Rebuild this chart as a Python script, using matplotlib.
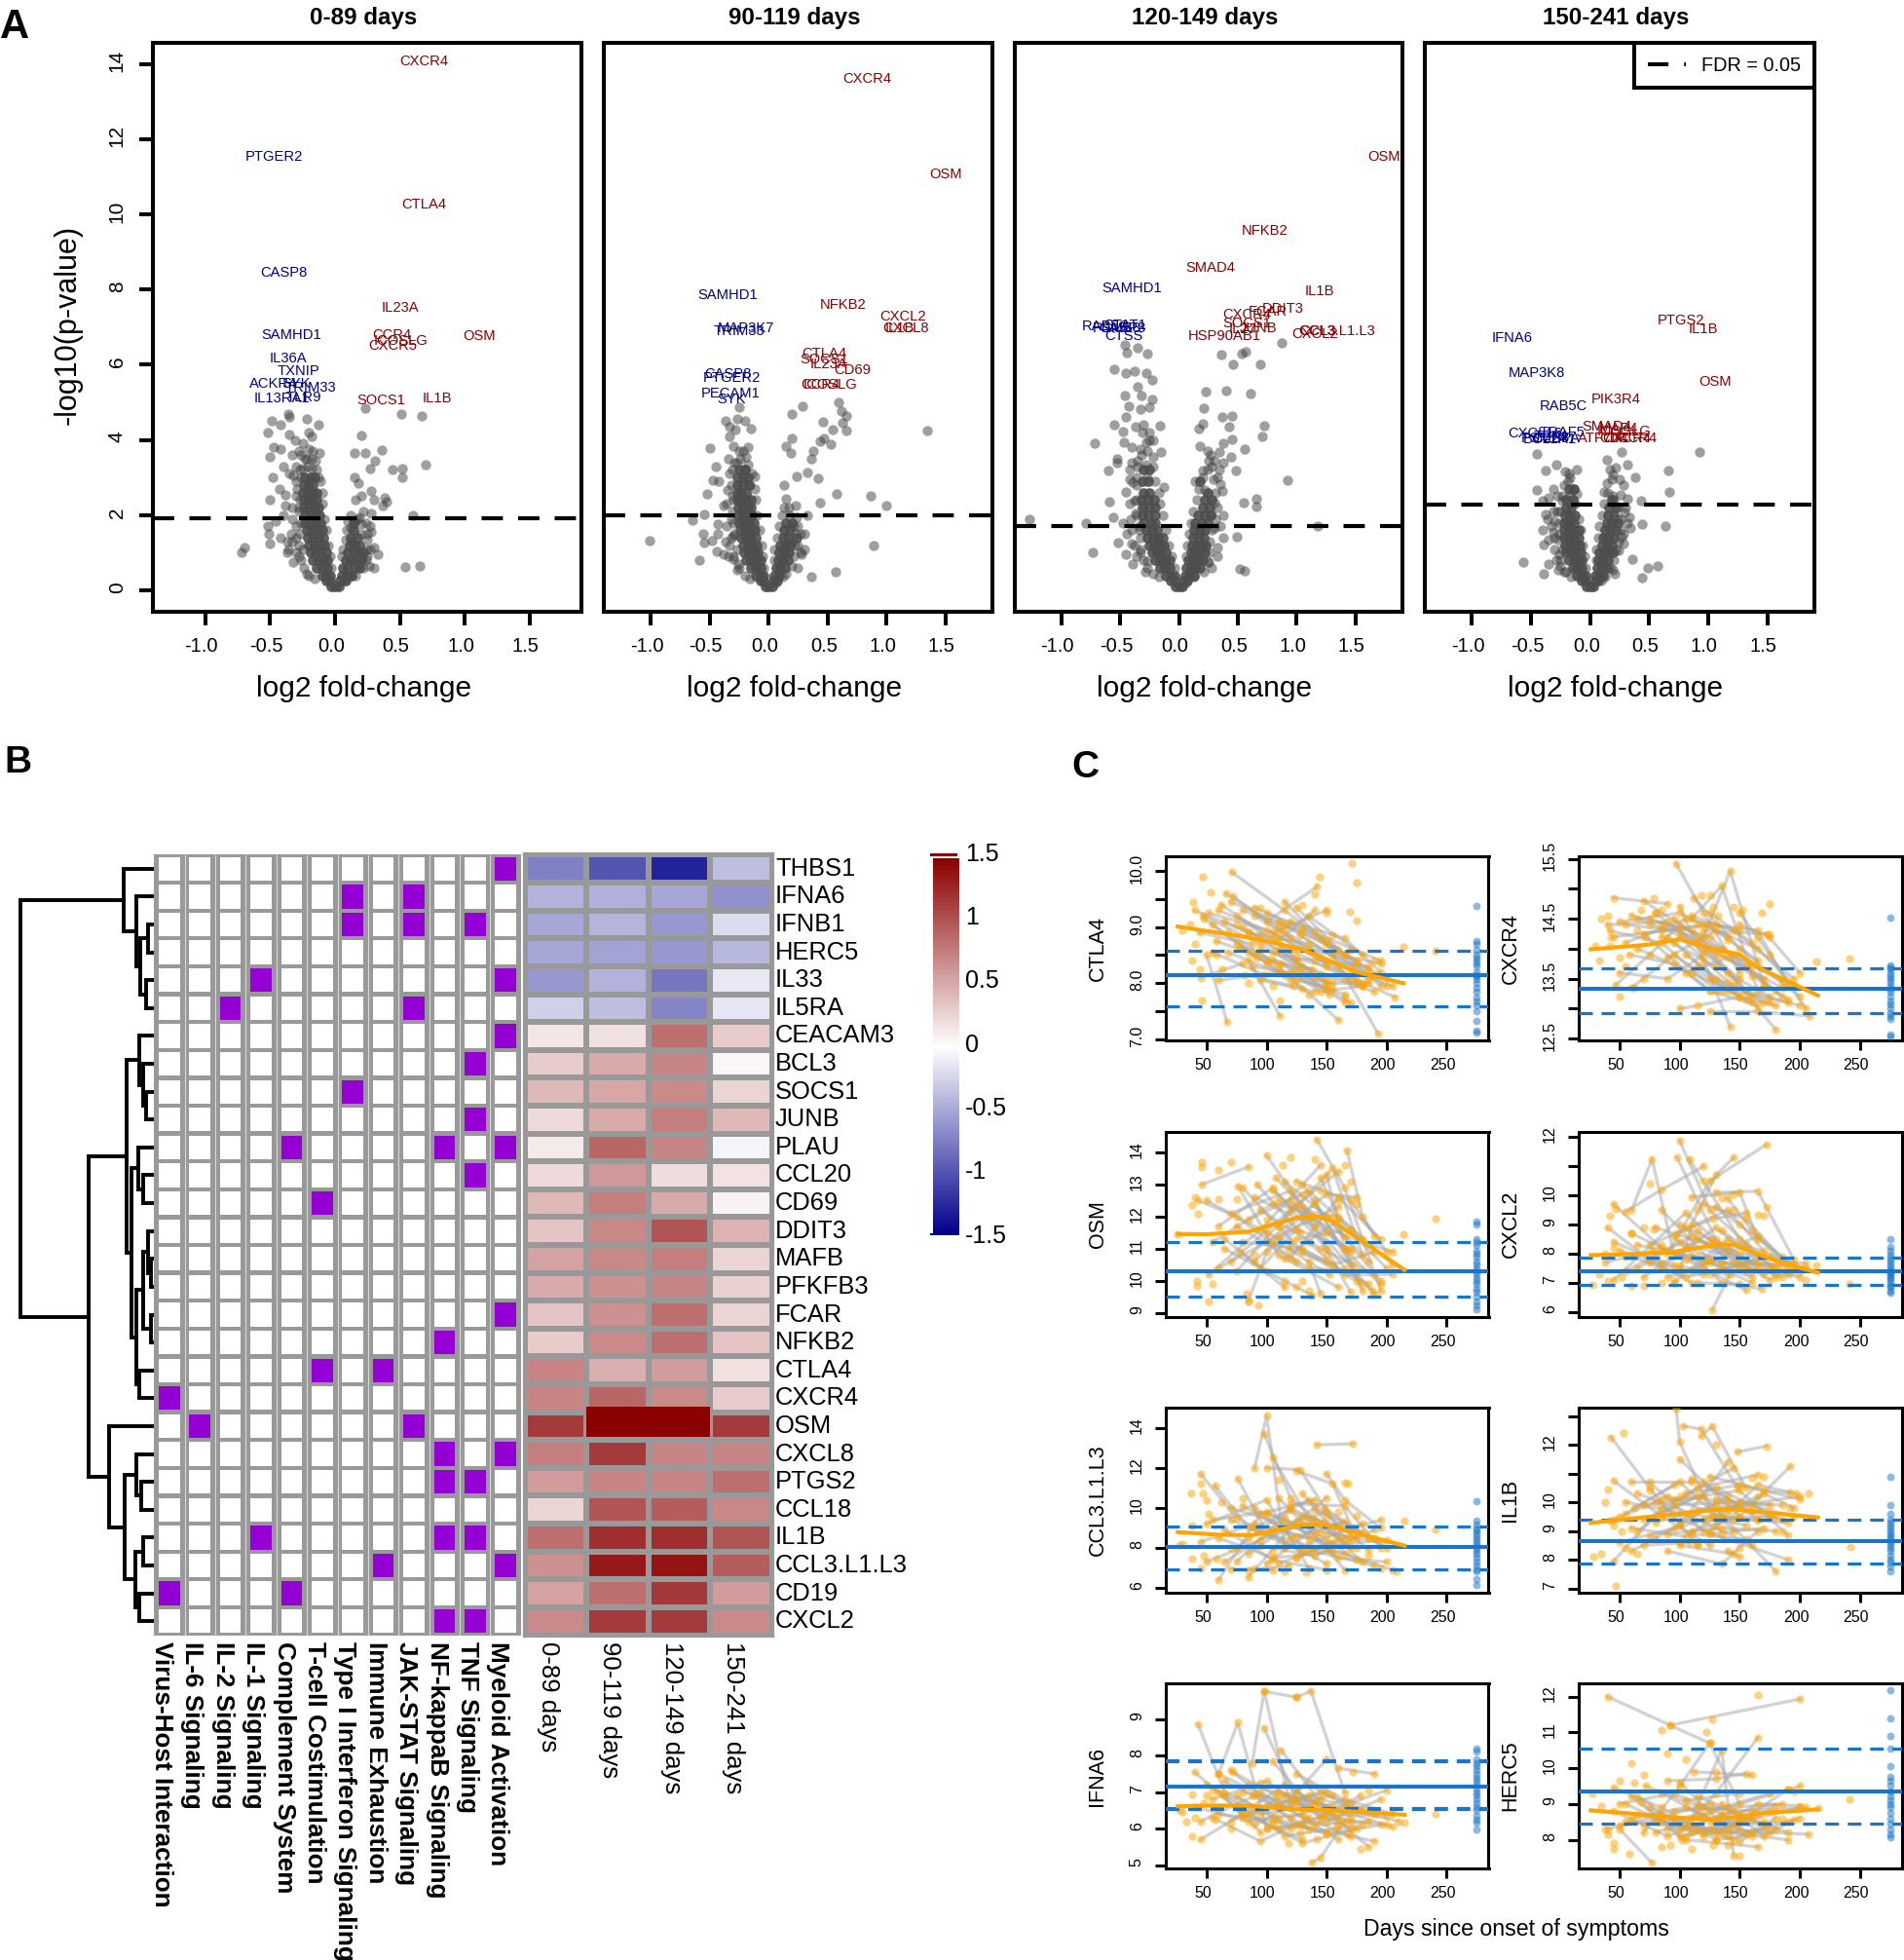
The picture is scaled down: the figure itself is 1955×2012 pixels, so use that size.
import numpy as np
import matplotlib
matplotlib.use('Agg')
import matplotlib.pyplot as plt
from matplotlib.colors import LinearSegmentedColormap
from matplotlib.lines import Line2D
from matplotlib.patches import Rectangle
from matplotlib.transforms import ScaledTranslation

plt.rcParams['font.family'] = ['Liberation Sans', 'DejaVu Sans']

W, H = 1956, 2012
fig = plt.figure(figsize=(W/100, H/100), dpi=100)

def px_ax(l, r, t, b):
    return fig.add_axes([l/W, 1-b/H, (r-l)/W, (b-t)/H])

def px_text(x, y, s, **kw):
    fig.text(x/W, 1-y/H, s, **kw)

def nudge(labels, dx, dy):
    # R draws its tick labels a little off the tick, px here
    off = ScaledTranslation(dx/100, dy/100, fig.dpi_scale_trans)
    for t in labels:
        t.set_transform(t.get_transform() + off)

#PANEL A DATA
periods = ['0-89 days', '90-119 days', '120-149 days', '150-241 days']
fdr_lines = [1.915, 1.986, 1.70, 2.28]

# core rows: y, then the x values at that height
v1_core = [(.1,-.03,0,.03),(.25,-.07,-.04,.04,.08),(.4,-.1,-.07,-.04,.05,.09,.13),
 (.6,-.14,-.1,-.06,.06,.1,.15,.19),(.8,-.17,-.13,-.09,-.06,.08,.12,.16,.2),
 (1.0,-.19,-.15,-.11,-.07,.1,.14,.18,.22),(1.2,-.2,-.16,-.12,-.08,.11,.15,.19),
 (1.4,-.21,-.17,-.13,-.09,.12,.17),(1.6,-.22,-.18,-.14,-.1,.14),(1.8,-.23,-.19,-.15,-.11,.14),
 (2.0,-.23,-.19,-.15,-.12),(2.2,-.24,-.2,-.16,-.13),(2.4,-.24,-.2,-.17,-.14),
 (2.6,-.25,-.21,-.17,-.14),(2.8,-.24,-.2,-.17),(3.0,-.23,-.19,-.16)]
v2_core = [(.1,-.03,0,.03),(.25,-.07,-.04,.04,.07),(.4,-.11,-.07,-.04,.05,.09),
 (.6,-.15,-.11,-.07,.06,.1,.14),(.8,-.19,-.15,-.11,-.07,.08,.12,.16),
 (1.0,-.21,-.17,-.13,-.09,.09,.13,.17),(1.2,-.22,-.18,-.14,-.1,.1,.14,.18),
 (1.4,-.23,-.19,-.15,-.11,.12,.16,.24),(1.6,-.24,-.2,-.16,-.12,.13,.18),
 (1.8,-.25,-.21,-.17,-.13,.15,.2),(2.0,-.26,-.22,-.18,-.14),(2.2,-.26,-.22,-.18,-.15),
 (2.4,-.27,-.23,-.19,-.15),(2.6,-.27,-.23,-.19),(2.8,-.27,-.22,-.17),(3.0,-.27,-.22,-.18),(3.2,-.25,-.2)]
v3_core = [(.1,-.03,0,.03),(.25,-.07,-.04,.04,.07),(.4,-.11,-.07,-.04,.05,.09,.13),
 (.6,-.16,-.12,-.08,.06,.1,.14,.18),(.8,-.2,-.16,-.12,-.08,.08,.12,.16,.2),
 (1.0,-.23,-.19,-.15,-.11,.1,.14,.18,.22),(1.2,-.25,-.21,-.17,-.13,.11,.15,.19,.23),
 (1.4,-.27,-.22,-.18,-.14,.12,.17,.21),(1.6,-.28,-.23,-.19,.13,.18,.22),(1.8,-.3,-.24,-.2,.14,.19,.24),
 (2.0,-.31,-.26,-.2,.16,.22,.27),(2.2,-.31,-.25,-.2,.2,.26),(2.4,-.32,-.26,-.21,.22,.28),
 (2.6,-.3,-.25,.24),(2.9,-.31,-.26,.18),(3.2,-.3,-.25)]
v4_core = [(.1,-.03,0,.03),(.25,-.07,-.04,.04,.07),(.4,-.11,-.07,-.04,.04,.08,.11),
 (.6,-.15,-.11,-.07,.06,.1,.14),(.8,-.18,-.14,-.1,-.07,.07,.11,.15),
 (1.0,-.2,-.16,-.12,-.08,.08,.12,.16,.19),(1.2,-.21,-.17,-.13,-.09,.1,.14,.18),
 (1.4,-.22,-.18,-.14,-.1,.11,.15,.2),(1.6,-.22,-.18,-.14,-.1,.13,.17,.22),
 (1.8,-.22,-.18,-.14,.14,.18,.23),(2.0,-.21,-.17,-.13,.15,.2),(2.2,-.2,-.16,.16,.22),
 (2.4,-.2,-.15,.18),(2.7,-.18,-.14)]

# scattered points: x, y pairs
v1_pts = [.23,4.85,.51,4.69,.67,4.63,.2,4.13,.15,3.65,.23,3.65,.36,3.73,.31,3.45,.7,3.35,.44,3.2,.52,3.25,.52,3.0,
 .27,3.25,.15,3.0,.18,2.85,.28,2.65,.2,2.5,.3,2.4,.16,2.4,.38,2.45,.37,2.25,.4,2.35,.22,2.1,.28,2.05,.6,2.0,
 .15,1.85,.12,1.65,.27,1.7,.28,1.55,.2,1.5,.13,1.3,.27,1.1,.25,.9,.3,.6,.54,.62,.65,.65,.2,.85,.18,.7,
 -.36,4.7,-.35,4.6,-.49,4.5,-.42,4.4,-.52,4.2,-.35,4.15,-.22,4.55,-.13,4.4,-.2,4.2,-.31,4.0,-.47,3.8,-.42,3.75,
 -.18,4.1,-.25,3.9,-.12,3.65,-.5,3.55,-.33,3.6,-.28,3.7,-.22,3.5,-.17,3.7,-.4,3.3,-.35,3.1,-.32,3.05,-.48,3.0,
 -.72,1.0,-.7,1.15,-.5,1.25,-.51,1.5,-.52,1.7,-.46,1.85,-.5,2.4,-.43,2.7,-.38,2.55,-.38,2.25,-.4,2.0,-.37,1.0,
 -.37,1.3,-.33,1.3,-.42,1.4,-.3,3.3,-.3,2.9,-.3,2.5,-.28,2.2,-.3,1.7,-.28,1.2,-.26,.8,-.22,.45,-.27,3.2]
v2_pts = [.59,5.0,.29,4.9,.2,4.7,.62,4.76,.66,4.64,.46,4.48,.63,4.46,.54,4.28,.66,4.26,1.35,4.26,.2,4.04,.47,4.04,
 .44,3.96,.15,3.84,.53,3.89,.19,3.66,.38,3.71,.36,3.51,.33,3.13,.24,3.03,.42,2.99,.13,2.8,.58,2.56,.87,2.52,
 .44,2.34,1.0,2.26,.23,2.26,.15,2.44,.33,2.0,.25,1.72,.3,1.49,.89,1.19,.57,.48,.36,.36,.28,.95,.25,.6,.2,1.3,
 -.25,4.86,-.37,4.5,-.27,4.57,-.2,4.52,-.33,4.34,-.15,4.31,-.28,4.28,-.33,4.1,-.5,3.77,-.3,3.84,-.18,3.8,
 -.34,3.5,-.19,3.55,-.45,3.3,-.27,3.39,-.47,2.94,-.42,2.89,-.12,3.03,-.52,2.56,-.35,2.68,-.38,2.26,-.55,2.02,
 -.65,1.87,-.43,1.76,-.56,1.49,-1.01,1.31,-.55,1.26,-.48,1.31,-.43,1.49,-.59,.8,-.44,1.03,-.38,.95,-.3,.83,
 -.27,.54,-.33,1.19,-.33,3.1,-.3,2.4,-.32,1.9,-.3,1.45,-.26,.7,-.22,3.7]
v3_pts = [.87,6.58,.36,6.28,.53,6.3,.57,6.34,.46,6.0,.69,6.0,.23,5.29,.4,5.32,.61,5.23,.21,4.85,.37,4.62,.45,4.64,
 .72,4.37,.2,4.42,.43,4.34,.17,4.3,.71,4.1,.45,4.02,.38,3.9,.56,3.75,.18,3.83,.34,3.69,.25,3.45,.44,3.55,.48,3.19,
 .2,3.19,.14,2.91,.92,2.93,.35,2.82,.37,2.63,.22,2.67,.55,2.32,.66,2.44,.66,2.24,.3,2.32,1.18,1.72,.49,1.43,.33,1.13,
 .25,.75,.52,.57,.56,.51,.3,1.67,.28,2.02,.28,3.3,.33,3.0,.24,3.7,.3,3.45,
 -.46,6.54,-.35,6.45,-.44,6.33,-.27,6.3,-.55,5.89,-.45,5.77,-.38,5.83,-.23,5.6,-.28,5.77,-.35,5.41,-.46,5.17,-.32,5.17,
 -.23,5.09,-.43,4.9,-.25,4.88,-.33,4.82,-.45,4.6,-.55,4.4,-.16,4.37,-.48,4.22,-.37,4.34,-.72,3.9,-.47,3.93,-.4,3.81,
 -.25,3.99,-.53,3.51,-.15,3.69,-.35,3.45,-.6,3.19,-.42,3.21,-.53,3.39,-.28,3.33,-.39,2.88,-.45,2.62,-.59,2.36,-.38,2.38,
 -.13,2.74,-.56,1.93,-1.27,1.88,-.79,1.78,-.48,1.78,-.44,1.49,-.52,1.27,-.73,1.0,-.45,.95,-.39,.69,-.27,.77,-.29,.5,
 -.4,1.25,-.36,3.0,-.3,4.4,-.25,4.2,-.33,3.75,-.22,3.55,-.37,2.05,-.34,1.6,-.33,1.1]
v4_pts = [.93,3.68,.66,3.19,.67,2.62,.27,3.69,.14,3.47,.32,3.33,.22,3.27,.19,3.09,.38,3.0,.14,2.85,.28,2.8,.32,2.44,
 .43,2.38,.19,2.5,.29,2.08,.44,1.76,.64,1.72,.34,1.67,.27,1.43,.24,1.07,.36,.84,.57,.65,.49,.59,.44,.33,.19,.54,
 .32,1.79,.12,2.62,.25,2.95,.17,3.2,.23,1.9,.28,1.25,
 -.45,3.63,-.29,3.35,-.38,3.19,-.11,3.21,-.21,3.15,-.19,2.91,-.31,2.7,-.45,2.68,-.35,2.47,-.4,2.38,-.11,2.56,-.24,2.38,
 -.38,2.02,-.4,1.6,-.31,1.55,-.39,1.21,-.57,.75,-.35,.69,-.39,.44,-.26,.95,-.17,3.0,-.28,2.1,-.3,1.85,-.27,1.35,-.25,.65,-.22,.5]

# halo points hugging the two arms
v1_halo = [-.28,.9,-.25,1.1,-.27,1.5,-.26,1.8,-.28,2.1,-.27,2.4,-.29,2.7,-.26,3.0,-.25,3.25,-.21,3.3,-.18,3.25,-.14,3.2,-.11,2.9,
 -.1,2.6,-.1,2.3,-.08,1.9,-.07,1.6,-.05,1.2,-.04,.9,-.03,.6,-.24,.6,-.2,.4,-.16,.3,-.23,3.5,-.18,3.5,-.15,3.45,-.26,3.6,-.2,3.75,
 -.13,3.0,-.33,2.2,-.33,1.9,-.34,1.5,-.36,1.1,-.32,.75,-.3,1.0,-.3,1.4,.05,.9,.06,1.1,.08,1.35,.09,1.6,.1,1.85,.12,2.0,.17,1.9,
 .2,1.75,.19,1.95,.25,1.35,.24,1.1,.24,.8,.22,.6,.12,.4,.16,.4,.07,.25,.25,1.5,.24,1.8,.26,.65,.33,.95,.3,1.15]
v2_halo = [-.3,.9,-.27,1.1,-.29,1.5,-.3,1.8,-.31,2.1,-.31,2.5,-.32,2.8,-.31,3.2,-.29,3.4,-.24,3.5,-.18,3.35,-.14,3.1,-.12,2.7,-.11,2.4,
 -.1,2.0,-.08,1.6,-.06,1.2,-.05,.9,-.04,.6,-.25,.6,-.2,.4,-.16,.3,-.25,3.7,-.2,3.2,-.16,2.8,-.36,2.3,-.36,1.7,-.37,1.3,-.34,.9,-.32,1.4,
 .05,.8,.05,1.1,.07,1.4,.09,1.7,.11,2.0,.13,2.2,.18,2.0,.21,1.7,.23,1.5,.22,1.2,.21,.9,.2,.65,.12,.35,.15,.45,.06,.2,.25,1.2,.27,1.0,
 .17,2.2,.24,1.95,.27,1.5,.3,1.1]
v3_halo = [-.33,1.0,-.3,.8,-.33,1.4,-.34,1.7,-.36,2.0,-.36,2.4,-.36,2.8,-.35,3.3,-.32,3.6,-.27,3.7,-.22,3.3,-.2,2.9,-.17,2.6,-.16,2.3,
 -.14,2.0,-.11,1.6,-.09,1.2,-.06,.9,-.04,.6,-.27,.6,-.22,.45,-.17,.35,-.28,3.95,-.22,4.0,-.31,4.2,-.27,3.0,-.3,2.25,-.42,2.3,-.41,1.9,
 -.4,1.6,-.38,1.2,-.36,.9,-.42,2.95,-.4,3.4,.06,.9,.07,1.2,.09,1.5,.1,1.8,.12,2.1,.15,2.4,.17,2.7,.2,3.0,.24,3.2,.29,2.95,.31,2.6,
 .33,2.2,.31,1.9,.28,1.6,.26,1.3,.26,1.0,.24,.75,.21,.5,.13,.35,.06,.2,.35,1.7,.38,2.0,.38,1.4,.33,.9,.28,.6,.27,3.6,.34,3.2,.38,3.4]
v4_halo = [-.25,.8,-.24,1.1,-.26,1.5,-.26,1.8,-.25,2.1,-.24,2.5,-.22,2.8,-.17,2.5,-.13,2.3,-.1,1.9,-.08,1.6,-.06,1.2,-.05,.9,-.04,.6,
 -.2,.5,-.16,.35,-.3,1.1,-.3,1.4,-.33,1.7,-.31,2.1,-.28,2.5,-.14,2.7,-.18,3.1,-.29,.8,-.27,.55,-.36,1.9,-.35,1.35,.05,.8,.05,1.1,.07,1.4,
 .08,1.7,.1,2.0,.12,2.3,.15,2.6,.2,2.4,.23,2.2,.26,1.9,.26,1.6,.24,1.3,.22,1.05,.2,.8,.17,.6,.09,.25,.13,.35,.28,1.5,.3,2.2,.33,1.95,
 .26,2.55,.18,2.95,.21,.45]

# gene labels per panel: name, x, y
genes_up = [
 [('CXCR4',.683,14.07),('CTLA4',.683,10.27),('IL23A',.506,7.52),('CCR4',.44,6.78),('ICOSLG',.506,6.64),('CXCR5',.444,6.51),
  ('OSM',1.113,6.77),('SOCS1',.358,5.06),('IL1B',.788,5.10)],
 [('CXCR4',.832,13.61),('OSM',1.505,11.07),('NFKB2',.632,7.60),('CXCL2',1.137,7.27),('CXCL8',1.168,6.98),('IL1B',1.116,6.98),
  ('CTLA4',.468,6.30),('SOCS1',.474,6.13),('IL23A',.51,6.0),('CD69',.71,5.86),('ICOSLG',.526,5.47),('CCR4',.437,5.47)],
 [('OSM',1.747,11.54),('NFKB2',.727,9.56),('SMAD4',.263,8.58),('IL1B',1.197,7.96),('DDIT3',.884,7.49),('FCAR',.758,7.42),
  ('CXCR4',.576,7.33),('SOCS1',.576,7.11),('JUNB',.672,6.96),('IL27',.54,6.93),('HSP90AB1',.389,6.76),('CCL3',1.177,6.88),
  ('CXCL2',1.157,6.82),('CCL3.L1.L3',1.338,6.88)],
 [('PTGS2',.768,7.18),('IL1B',.96,6.95),('OSM',1.06,5.54),('PIK3R4',.217,5.09),('SMAD4',.14,4.34),('MAP4',.24,4.31),
  ('ICOSLG',.29,4.22),('ATF7IP',.1,4.03),('CD4',.2,4.03),('CCR4',.4,4.03),('CXCR4',.31,4.03)],
]
genes_down = [
 [('PTGER2',-.468,11.54),('CASP8',-.392,8.45),('SAMHD1',-.334,6.80),('IL36A',-.358,6.17),('TXNIP',-.282,5.84),('ACKR4',-.478,5.50),
  ('SYK',-.296,5.50),('TRIM33',-.191,5.39),('IL13RA1',-.411,5.10),('TLR9',-.244,5.13)],
 [('SAMHD1',-.347,7.86),('MAP3K7',-.195,6.98),('TRIM33',-.247,6.88),('CASP8',-.347,5.76),('PTGER2',-.31,5.65),('PECAM1',-.326,5.23),('SYK',-.316,5.09)],
 [('SAMHD1',-.404,8.03),('RAB5C',-.621,7.03),('STAT1',-.455,7.05),('PSMB8',-.53,6.96),('CASP8',-.48,6.96),('CTSS',-.47,6.76)],
 [('IFNA6',-.662,6.72),('MAP3K8',-.455,5.77),('RAB5C',-.227,4.89),('CXCL16',-.465,4.16),('TRAF5',-.24,4.2),('TBK1',-.33,4.1),
  ('BCL2A1',-.34,4.02),('PSMB8',-.38,4.05),('CEBPA',-.29,4.03)],
]

#PANEL B DATA
heat_genes = ['THBS1','IFNA6','IFNB1','HERC5','IL33','IL5RA','CEACAM3','BCL3','SOCS1','JUNB','PLAU','CCL20','CD69','DDIT3',
 'MAFB','PFKFB3','FCAR','NFKB2','CTLA4','CXCR4','OSM','CXCL8','PTGS2','CCL18','IL1B','CCL3.L1.L3','CD19','CXCL2']
pathways = ['Virus-Host Interaction','IL-6 Signaling','IL-2 Signaling','IL-1 Signaling','Complement System','T-cell Costimulation',
 'Type I Interferon Signaling','Immune Exhaustion','JAK-STAT Signaling','NF-kappaB Signaling','TNF Signaling','Myeloid Activation']
gene_pathways = [[11],[6,8],[6,8,10],[],[3,11],[2,8],[11],[10],[6],[10],[4,9,11],[10],[5],[],[],[],[11],[9],[5,7],[0],[1,8],
 [9,11],[9,10],[],[3,9,10],[7,11],[0,4],[9,10]]
fold_changes = [[-.75,-1.0,-1.3,-.38],[-.45,-.46,-.52,-.65],[-.52,-.44,-.6,-.2],[-.52,-.55,-.6,-.42],[-.6,-.45,-.8,-.13],
 [-.27,-.38,-.72,-.15],[.15,.18,.85,.3],[.3,.5,.72,.05],[.42,.52,.68,.25],[.22,.5,.75,.42],[.12,.9,.72,-.07],[.22,.6,.2,.17],
 [.42,.75,.5,.08],[.35,.7,1.0,.45],[.55,.7,.75,.25],[.5,.65,.72,.28],[.35,.65,.85,.25],[.3,.68,.85,.35],[.72,.48,.58,.18],
 [.72,.9,.68,.3],[1.15,1.5,1.5,1.15],[.75,1.15,.72,.72],[.58,.72,.72,.85],[.25,1.0,.95,.7],[.85,1.22,1.22,1.0],
 [.65,1.35,1.38,.95],[.55,.85,1.17,.58],[.68,1.15,1.15,.68]]
# dendrogram: (merge height, left child, right child), leaves are row numbers
tree = (31,(188,0,(207,1,(213,(225,2,3),(222,4,5)))),
 (135,(192,(212,6,(217,7,(222,8,9))),
   (200,(210,10,(218,11,12)),(207,(218,(225,13,(230,14,15)),(230,16,17)),(212,18,19)))),
  (165,20,(190,(207,21,(214,22,23)),(205,(218,24,25),(212,26,27))))))
bar_labels = ['1.5','1','0.5','0','-0.5','-1','-1.5']
bar_ticks = [1.5,1,.5,0,-.5,-1,-1.5]

#PANEL C DATA: flat day,value rows per patient, extra dots, baseline values
ctla4_traj = [[71,9.98,115,9.3,165,8.5],[47,9.2,95,8.7,140,8.1],[66,9.6,110,9.0,160,8.3],[72,9.55,120,8.8,180,8.0],[62,9.4,105,8.8,150,7.95],
 [100,9.1,142,9.72],[115,9.45,150,8.7,193,7.1],[80,9.3,130,8.9,175,8.4],[55,9.05,90,8.5,130,7.9],[40,9.3,85,8.9,125,8.4],[90,9.2,135,8.6,195,8.35],
 [68,8.9,110,8.3,160,7.34],[50,8.5,67,7.31],[60,8.05,110,8.2,155,8.0],[95,8.6,150,8.3,207,7.75],[105,8.9,150,9.3],[125,9.35,165,8.5,195,7.95],
 [85,8.4,111,7.42],[120,8.2,145,7.85,180,7.95],[130,9.0,175,8.35,200,8.1],[45,8.1,80,8.35],[75,8.7,125,8.25,165,7.65],[110,8.6,150,8.0,185,8.0],[110,8.75,140,9.3],
 [52,9.25,100,8.95,150,8.35],[60,9.3,110,8.85,170,8.1],[65,9.1,120,8.6,175,8.0],[70,9.45,115,9.05,160,8.6],[75,9.2,125,8.45,185,8.3],[80,9.0,130,8.3,180,7.95],
 [85,8.9,135,8.7,190,8.15],[90,9.35,140,8.9,195,8.4],[58,8.75,105,8.4,150,8.05],[68,8.55,115,8.15,165,7.8],[78,8.65,125,8.05,155,7.9],[88,8.3,130,8.15,170,7.65],
 [95,8.05,140,7.85],[100,9.25,150,8.75,185,8.25],[110,9.1,155,8.5,200,7.95],[120,9.1,165,8.8,195,8.2],[128,8.85,170,8.25,205,7.95],[135,9.2,180,8.5],
 [145,8.8,185,8.05],[105,8.55,145,8.15,190,7.85],[112,8.35,152,7.8],[82,8.15,122,7.95],[55,8.55,98,8.15],[44,8.9,88,8.7],[48,9.15,92,8.45,138,8.25]]
ctla4_dots = [47,9.89,171,10.15,175,9.79,144,9.9,140,9.58,53,9.62,39,9.45,46,7.69,111,7.69,214,8.64,241,8.57,169,9.27,175,9.11,
 30,8.95,36,9.05,40,8.7,38,8.4,44,8.25,58,8.5,63,8.25,85,8.0,100,8.35,120,8.05,135,7.8,150,7.9,165,7.75,175,8.05,190,8.4,
 130,9.4,150,9.25,95,9.35,75,9.05,85,8.55,100,8.4,125,8.6,140,8.4,155,8.85,170,8.6,105,7.95,95,8.85,115,8.95,165,8.1]
ctla4_base = [9.38,8.75,8.7,8.6,8.5,8.45,8.4,8.35,8.3,8.2,8.15,8.12,8.08,8.0,7.92,7.85,7.75,7.68,7.6,7.5,7.32,7.15,7.12]

cxcr4_traj = [[97,15.42,120,14.6,150,13.6],[120,14.2,142,15.3,170,13.4],[45,14.85,90,14.75],[110,14.5,135,15.05,165,13.3],[70,14.8,115,14.2,160,13.2],
 [55,14.4,100,14.3,150,13.5],[42,14.3,85,14.1,130,13.3],[100,14.7,120,13.8,142,12.7],[112,14.85,150,14.0,200,13.2],[80,14.6,140,13.6,180,12.65],
 [47,13.4,75,13.9,100,14.4],[60,13.35,95,13.9,140,13.3],[100,13.0,115,13.05,150,13.2],[125,12.95,165,12.95,208,12.88],[90,14.2,130,13.5,175,13.1],
 [125,14.6,160,14.1,195,13.4],[65,14.0,110,13.6,155,13.15],[105,13.9,145,13.3,190,13.1],[120,14.3,172,14.25,200,13.6],[150,14.6,175,13.9,205,13.0],
 [85,14.4,135,14.0,185,13.2],[72,14.2,125,13.3,165,13.05],
 [40,14.4,90,14.45,130,13.9],[45,14.2,85,14.3,125,14.4],[50,14.45,100,14.6,140,14.2],[55,14.1,105,14.5,150,14.3],[60,14.55,110,14.3,160,13.7],[65,14.5,115,14.1,170,13.5],
 [70,14.25,120,14.4,165,14.0],[75,14.5,125,14.2,180,13.3],[85,14.2,130,13.7,175,13.2],[90,13.85,130,14.3,165,13.8],[95,14.5,135,13.9,190,13.15],[100,14.2,140,13.45,170,13.1],
 [105,13.6,140,13.85,185,13.35],[110,14.55,145,14.3,195,13.5],[115,13.7,150,13.2,180,13.05],[120,14.0,155,13.3,200,13.05],[125,13.5,160,13.1],[130,14.4,165,14.3,190,13.4],
 [135,13.3,170,13.35],[50,13.6,90,13.5,120,13.9],[58,13.9,95,13.75,125,13.3],[145,13.9,185,13.45],[150,14.4,175,14.2]]
cxcr4_dots = [168,14.6,175,14.75,214,13.78,241,13.84,30,14.05,35,14.5,40,14.55,43,14.2,42,14.05,33,13.8,50,13.85,55,13.7,
 78,14.85,68,14.65,80,14.6,85,14.65,128,14.7,145,14.7,152,14.65,165,14.2,175,14.25,118,14.9,125,14.9,132,14.55,
 65,14.3,75,14.4,95,14.1,115,14.4,125,14.0,140,14.15,155,13.7,145,13.4,160,13.55,50,13.2,62,13.35,70,13.5]
cxcr4_base = [14.52,13.73,13.69,13.65,13.6,13.55,13.5,13.44,13.38,13.33,13.28,13.2,13.12,13.07,13.0,12.92,12.88,12.83,12.56,12.53]

osm_traj = [[46,13.0,85,13.55],[142,14.4,165,12.9,195,9.7],[167,14.05,180,12.0,200,10.9],[76,12.95,110,10.8,160,9.8],[100,13.9,130,12.3,170,9.65],
 [43,12.5,75,12.0,125,10.6],[60,11.7,105,12.9,150,11.0],[90,12.6,140,11.7,190,9.6],[115,13.1,150,12.0,195,10.0],[70,10.6,120,12.2,160,13.4],
 [52,10.2,95,11.6,145,13.6],[65,11.0,115,10.0,138,9.55],[85,9.4,100,10.9,135,12.0],[110,12.5,165,11.4,205,10.9],[80,11.2,130,11.0,185,9.9],
 [125,13.1,170,12.5,190,11.4],[95,10.4,125,11.6,170,11.0],[105,11.2,155,10.5,190,10.9],[150,13.3,165,11.0,180,9.7],[75,11.7,135,10.4,175,10.3],
 [120,10.7,160,12.6,195,11.3],[135,11.2,165,10.2,205,10.2],
 [50,12.5,100,11.5,150,10.6],[55,11.2,105,12.4,155,12.0],[60,10.4,110,11.4,160,12.3],[70,12.1,120,12.8,165,11.0],[75,10.3,125,12.4,170,10.9],[80,12.9,130,10.9,175,10.0],
 [85,11.9,135,12.8,180,11.3],[90,10.6,140,12.4,185,10.6],[95,12.2,145,11.0,190,10.2],[100,11.2,150,12.7,175,12.6],[105,12.8,150,11.5,195,9.9],[110,11.7,155,13.5,180,10.8],
 [115,10.7,160,11.9,200,10.4],[120,12.5,165,10.4,188,9.7],[125,11.3,170,11.6],[130,13.0,172,10.5],[135,10.6,145,9.6],[140,12.5,178,9.9],[145,13.2,160,12.0,205,10.5],
 [65,11.3,100,10.3],[78,10.9,115,9.8],[92,13.0,128,11.5],[108,13.2,138,12.0],[118,11.0,152,10.2]]
osm_dots = [46,13.7,46,13.55,60,13.45,70,13.7,38,12.35,40,12.6,43,12.1,214,11.44,241,11.93,52,9.35,83,9.6,85,9.35,93,9.25,
 120,13.85,140,13.8,113,13.6,165,13.6,170,13.1,135,9.7,42,10.0,42,9.85,55,9.9,26,11.45,60,12.55,75,12.55,90,10.8,
 100,11.9,110,11.7,120,11.2,130,12.7,145,12.8,150,10.8,160,12.5,125,9.8,175,12.4,130,10.0]
osm_base = [11.85,11.75,11.3,11.2,11.12,10.95,10.85,10.75,10.6,10.5,10.4,10.3,10.2,10.1,10.0,9.9,9.75,9.65,9.5,9.35,9.25,9.12]

cxcl2_traj = [[60,9.5,77,11.25,95,8.0,135,7.6],[100,11.88,125,9.5,165,8.0],[98,11.3,130,8.5,170,7.4],[108,11.25,150,8.5,185,7.2],[90,8.0,125,10.5,172,11.75],
 [100,7.4,110,9.0,130,10.7,145,11.3],[127,6.07,142,7.3],[45,9.7,85,8.2,120,7.6],[55,9.45,85,10.2,120,11.0],[85,9.5,125,7.8,180,7.3],
 [110,9.95,150,10.1,165,8.5],[130,10.1,165,10.15,195,7.8],[40,8.9,75,7.8,110,7.0],[45,7.1,105,9.4,140,8.1],[120,9.7,155,9.2,190,7.6],[60,8.7,105,7.8,155,6.75],
 [75,8.3,140,9.5,170,8.1],[95,8.6,135,7.0,168,6.8],[130,9.6,150,9.0,200,7.4],[65,7.5,110,8.6,175,7.1],[90,7.2,125,7.7,160,7.0],[105,8.9,150,8.0,205,7.65],
 [50,8.1,95,7.6,140,7.3],[55,7.4,100,8.4,150,7.8],[60,7.9,105,7.2,155,7.6],[65,8.3,110,7.9,160,7.2],[70,7.2,115,8.5,165,7.6],[75,7.7,120,7.3,170,7.9],
 [80,8.9,125,8.3,175,7.5],[85,7.5,130,8.9,180,7.2],[90,8.1,135,7.7,185,7.6],[95,7.0,140,8.5,190,7.3],[100,9.0,145,7.7,195,7.6],[105,8.2,150,7.5,200,7.2],
 [110,7.4,155,8.3,205,7.5],[115,8.8,160,7.4],[120,7.8,165,8.6,192,7.4],[125,8.5,170,7.3],[130,7.4,175,7.9],[135,8.8,178,7.5],[140,9.9,160,8.8,185,7.9],
 [45,8.4,85,7.7],[38,7.7,78,8.1],[115,7.0,150,6.95],[98,8.7,128,9.2,155,9.4]]
cxcl2_dots = [47,9.55,42,9.3,75,10.4,214,7.6,241,6.96,27,6.93,33,7.3,40,7.05,52,7.2,60,6.9,70,6.9,85,7.0,95,7.1,172,9.6,170,9.3,
 165,9.35,145,9.5,145,10.05,135,9.9,38,8.0,45,8.2,55,7.9,60,8.7,70,8.9,78,8.85,85,8.3,100,7.6,115,7.9,125,7.3,135,8.3,
 155,7.4,165,7.7,180,7.6,195,7.4,205,7.1,115,9.5,120,10.5]
cxcl2_base = [8.5,8.25,8.1,7.95,7.85,7.75,7.65,7.55,7.45,7.4,7.35,7.3,7.22,7.15,7.08,7.0,6.9,6.85,6.72,6.65]

ccl3_traj = [[90,12.0,100,14.6,115,8.0],[98,13.7,120,10.5,170,8.0],[142,13.15,172,13.2],[100,12.0,128,11.9,165,8.5],[105,12.5,135,9.5,190,8.5],
 [45,11.7,75,9.5,130,7.8],[57,11.1,85,9.0,140,8.0],[76,11.45,100,8.8,150,7.2],[125,11.85,155,11.2,175,8.5],[150,11.7,165,10.4,195,9.0],[60,6.4,95,9.7,140,10.4],
 [85,6.55,125,9.3,150,10.5],[65,8.9,105,7.4,150,6.9],[110,10.5,150,8.0,205,6.9],[90,10.0,135,7.9,190,7.1],[50,9.2,100,10.4,135,7.0],[120,10.2,165,10.1,195,8.0],
 [75,7.3,120,9.9,160,8.5],[100,7.2,145,9.2,180,7.3],[130,10.7,165,8.2,200,8.4],[70,10.0,140,8.7,165,6.9],
 [45,8.3,90,9.2,135,8.5],[50,7.3,95,8.4,140,9.4],[55,9.4,100,9.8,150,8.2],[60,8.5,105,7.5,155,7.8],[65,7.3,110,9.0,160,9.1],[70,9.4,115,8.2,165,7.7],[75,8.0,120,10.0,170,8.4],
 [80,10.1,125,8.6,175,8.0],[85,7.7,130,9.6,180,8.8],[90,9.0,135,10.4,185,7.9],[95,8.1,140,7.6,190,8.9],[100,9.7,145,8.8,195,8.3],[105,8.9,150,9.8,200,8.0],[110,7.2,155,8.3],
 [115,9.5,160,7.5,200,7.3],[120,8.5,165,9.3],[125,7.5,170,8.6],[130,9.2,175,7.4],[135,8.2,180,9.2],[140,9.9,172,9.0,195,9.4],[85,6.9,118,7.1],[70,6.95,105,6.9],[148,10.0,185,8.5]]
ccl3_dots = [37,10.7,45,11.2,47,10.7,50,10.4,62,10.3,168,11.2,165,11.25,215,9.38,241,8.92,27,8.15,30,8.2,38,9.1,38,7.45,48,7.6,
 45,7.0,58,7.45,52,9.7,80,10.5,90,7.0,105,7.8,115,6.85,125,7.5,133,6.8,150,8.6,160,9.8,175,9.6,185,7.6,195,7.0,208,6.85,
 70,8.0,85,8.5,95,9.0,115,9.2,130,8.0,150,9.5,110,11.4]
ccl3_base = [10.35,9.35,9.15,8.95,8.85,8.75,8.6,8.45,8.3,8.15,8.0,7.85,7.7,7.5,7.3,7.1,6.95,6.85,6.45,6.15]

il1b_traj = [[43,12.25,75,10.5,115,8.5],[97,13.25,100,12.1,128,9.5,165,9.4],[103,12.65,118,12.55,148,10.5],[118,12.3,127,12.65,155,10.5],[148,11.75,172,11.95],
 [100,11.5,150,9.5],[60,10.7,110,10.7],[45,10.75,85,9.5,125,8.5],[110,9.0,150,9.5,192,11.25],[130,9.2,165,10.6,192,10.35],[70,9.9,120,10.2,180,7.6],
 [75,10.7,120,9.0,190,8.0],[45,7.95,85,9.8,145,11.2],[60,8.3,100,9.2,140,11.4],[90,8.3,135,7.85,165,9.0],[110,10.8,150,9.9,200,10.2],[55,10.0,105,9.6,160,8.5],
 [125,10.9,170,10.4,197,10.3],[80,9.3,130,9.9,185,9.4],[100,8.5,145,8.2],[65,9.0,115,10.5,165,10.95],[95,10.1,150,10.4,190,8.85],
 [45,9.4,90,10.2,135,9.5],[50,8.6,95,9.1,140,10.2],[55,9.6,100,10.7,145,9.0],[60,9.1,105,8.8,150,10.0],[65,10.3,110,9.6,155,9.2],[70,9.4,115,10.2,160,9.7],[75,8.8,120,9.4,165,10.2],
 [80,10.0,125,8.9,170,9.1],[85,9.6,130,10.5,175,9.6],[90,8.9,135,9.1,180,9.0],[95,9.9,140,10.0,185,9.9],[100,9.3,145,9.4,190,9.3],[105,10.3,150,10.6,200,10.1],[110,8.9,155,8.7],
 [115,9.7,160,9.9,195,9.5],[120,10.7,165,9.4],[125,9.0,170,10.3,195,9.8],[130,10.1,175,9.9],[135,9.5,180,9.5],[140,8.3,150,8.1],[70,8.5,108,8.6],[62,9.8,95,10.6]]
il1b_dots = [47,7.1,53,12.4,35,8.2,28,8.1,40,10.45,38,10.0,42,9.35,50,9.5,52,9.0,55,8.4,65,8.2,45,9.2,242,8.45,207,10.3,130,12.0,
 100,8.6,115,8.55,135,8.9,150,8.4,160,10.85,170,10.9,175,9.6,185,9.0,80,8.7,85,10.1,125,9.5,140,9.7,100,10.2,75,10.4,192,9.8]
il1b_base = [10.9,9.9,9.6,9.4,9.3,9.2,9.1,9.0,8.9,8.8,8.7,8.6,8.5,8.4,8.3,8.15,8.0,7.9,7.75,7.6]

ifna6_traj = [[88,7.8,98,9.76,120,6.6],[98,9.76,125,9.6],[125,9.6,137,9.77,165,7.0],[43,8.85,65,7.0,110,6.3],[60,7.5,76,8.9,100,6.0],[98,8.75,125,6.8,170,6.0],
 [112,8.15,150,6.5,185,5.5],[40,7.55,80,6.4,130,5.7],[60,7.5,110,6.7,160,5.7],[105,7.85,145,6.3,200,6.1],[80,6.3,120,6.8,150,7.9],[138,5.08,145,5.2,165,6.2],
 [45,5.7,80,6.4,150,7.0],[70,7.6,125,6.1,190,5.65],[160,7.65,190,7.5],[85,7.2,140,6.7,205,6.05],[55,6.3,95,5.65,135,6.3],[125,7.5,170,6.7,200,7.05],
 [100,6.0,150,6.2,195,6.8],[65,6.9,115,5.8,180,6.1],[90,6.5,135,7.2,175,6.5],[110,7.0,155,6.6,210,6.2],
 [40,6.6,85,6.2,130,6.4],[45,6.2,90,6.9,135,6.0],[50,7.2,95,6.4,140,6.7],[55,6.8,100,7.3,145,6.3],[60,6.4,105,6.2,150,5.9],[65,7.3,110,6.6,155,6.9],[70,6.2,115,7.2,160,6.3],
 [75,6.9,120,6.0,165,6.6],[80,7.0,125,6.7,170,6.2],[85,6.4,130,5.6,175,6.0],[90,6.1,135,6.9,180,6.5],[95,7.0,140,6.1,185,6.2],[100,6.6,145,7.0,190,6.4],[105,6.3,150,5.85,195,6.1],
 [110,6.0,155,6.4,200,6.35],[115,6.9,160,6.1],[120,6.3,165,6.8,205,6.4],[125,7.0,170,6.3],[60,7.0,95,5.9],[72,7.55,108,6.9],[148,6.4,178,6.9],[132,6.3,170,5.8]]
ifna6_dots = [38,5.8,38,6.95,30,6.45,33,6.2,50,6.9,57,6.25,215,6.15,241,6.4,27,6.5,40,6.3,48,6.7,55,7.05,70,6.0,78,6.5,88,6.9,
 105,6.1,118,5.6,128,5.9,142,5.7,145,6.8,158,6.0,168,5.85,178,5.45,185,7.05,172,7.55,130,6.1,95,7.25,135,6.55]
ifna6_base = [8.2,8.1,7.9,7.8,7.7,7.6,7.5,7.4,7.3,7.2,7.1,7.0,6.9,6.8,6.7,6.6,6.5,6.35,6.25,6.15,5.97]

herc5_traj = [[40,12.0,92,11.2,125,10.7,150,9.0],[92,11.2,200,11.93],[110,8.6,135,10.5,145,7.55],[105,8.4,130,9.3,165,10.85],[50,8.3,77,7.35],[60,9.2,105,8.0,165,7.8],
 [70,8.2,100,9.5,125,10.7],[45,9.45,85,8.9,130,8.0],[90,9.65,130,9.7,155,9.85],[65,8.7,115,8.3,190,8.0],[50,9.0,95,9.3,150,8.5],[118,8.9,160,8.8,205,8.9],
 [80,8.2,120,8.7,200,9.5],[100,9.6,140,8.3,190,9.4],[55,8.5,125,8.3,207,8.15],[135,9.0,170,8.1,195,8.55],[72,9.5,125,8.8,175,9.3],[105,8.1,150,8.5,200,8.9],
 [112,9.9,160,9.8],[85,8.5,145,8.0,180,8.6],[150,8.7,190,8.2],
 [40,8.3,85,8.7,130,8.2],[45,8.8,90,8.1,135,8.7],[50,8.4,95,8.6,140,8.1],[55,9.0,100,8.3,145,8.8],[60,8.6,105,8.9,150,8.3],[65,9.2,110,8.2,155,8.6],[70,8.4,115,8.7,160,8.2],
 [75,8.9,120,8.1,165,8.7],[80,8.6,125,9.0,170,8.4],[85,9.3,130,8.5,175,8.8],[90,8.3,135,8.2,180,8.3],[95,8.8,140,8.9,185,9.0],[100,8.1,145,8.4,190,8.5],[105,9.1,150,9.3,195,9.35],
 [110,8.4,155,8.15,200,8.6],[115,9.2,160,8.6],[120,8.2,165,9.0,200,8.95],[125,8.5,170,8.5],[130,8.0,175,8.2],[135,8.7,180,8.95],[68,9.05,102,8.0],[150,7.95,172,8.4]]
herc5_dots = [165,12.05,122,11.0,127,11.37,85,11.05,60,10.15,70,9.8,90,10.4,105,10.25,27,9.3,35,8.95,38,8.3,40,8.15,45,7.9,45,7.75,
 58,7.6,85,7.8,92,7.85,215,8.88,241,9.13,190,9.4,110,7.75,128,7.85,140,7.85,150,7.55,160,8.1,185,8.6,130,9.9,115,8.95,50,9.65,62,9.6]
herc5_base = [12.17,11.38,10.9,10.55,10.05,9.75,9.65,9.5,9.36,9.2,9.1,9.0,8.9,8.75,8.6,8.46,8.3,8.15,8.08]

c_panels = [
 ('CTLA4', ctla4_traj, ctla4_dots, ctla4_base, [7,7.5,8,8.5,9,9.5,10], ['7.0','','8.0','','9.0','','10.0'], (6.98,10.27), 8.14, (8.58,7.58),
  [26,50,75,100,130,150,175,214], [9.01,8.93,8.85,8.75,8.6,8.42,8.2,8.0]),
 ('CXCR4', cxcr4_traj, cxcr4_dots, cxcr4_base, [12.5,13,13.5,14,14.5,15,15.5], ['12.5','','13.5','','14.5','','15.5'], (12.47,15.55), 13.33, (13.67,12.92),
  [26,75,100,125,150,165,215], [13.99,14.07,14.16,14.01,13.9,13.69,13.22]),
 ('OSM', osm_traj, osm_dots, osm_base, [9,10,11,12,13,14], ['9','10','11','12','13','14'], (8.88,14.64), 10.29, (11.22,9.5),
  [26,50,85,100,125,140,155,215], [11.46,11.45,11.53,11.7,11.96,12.02,11.86,10.34]),
 ('CXCL2', cxcl2_traj, cxcl2_dots, cxcl2_base, [6,7,8,9,10,11,12], ['6','7','8','9','10','','12'], (5.83,12.19), 7.41, (7.85,6.92),
  [26,50,90,110,130,145,165,190,215], [7.95,7.97,8.04,8.16,8.31,8.31,7.98,7.63,7.35]),
 ('CCL3.L1.L3', ccl3_traj, ccl3_dots, ccl3_base, [6,8,10,12,14], ['6','8','10','12','14'], (5.76,14.99), 8.04, (9.05,6.95),
  [26,60,88,105,125,145,165,215], [8.79,8.66,8.64,8.83,9.12,9.19,8.88,8.11]),
 ('IL1B', il1b_traj, il1b_dots, il1b_base, [7,8,9,10,11,12,13], ['7','8','9','10','','12',''], (6.85,13.28), 8.66, (9.40,7.86),
  [26,60,100,125,145,175,215], [9.28,9.43,9.6,9.72,9.76,9.63,9.47]),
 ('IFNA6', ifna6_traj, ifna6_dots, ifna6_base, [5,6,7,8,9], ['5','6','7','8','9'], (4.90,9.98), 7.16, (7.85,6.54),
  [26,50,85,120,150,215], [6.61,6.63,6.63,6.53,6.51,6.38]),
 ('HERC5', herc5_traj, herc5_dots, herc5_base, [8,9,10,11,12], ['8','9','10','11','12'], (7.19,12.37), 9.36, (10.54,8.46),
  [26,60,100,125,145,165,215], [8.82,8.73,8.61,8.57,8.63,8.73,8.85]),
]

#PLOT PANEL A
volcano_boxes = [(157.5,597),(620,1019),(1041.5,1440),(1463,1863)]
cores = [v1_core, v2_core, v3_core, v4_core]
scatters = [v1_pts, v2_pts, v3_pts, v4_pts]
halos = [v1_halo, v2_halo, v3_halo, v4_halo]
for i, (l, r) in enumerate(volcano_boxes):
    ax = px_ax(l, r, 43.6, 627.6)
    ax.set_xlim(-1.4, 1.9)
    ax.set_ylim(-0.56, 14.57)
    pts = np.array(scatters[i] + halos[i]).reshape(-1, 2)
    ax.scatter(pts[:, 0], pts[:, 1], s=56, c='#404040', alpha=.5, linewidths=0, zorder=2)
    cx = [v for row in cores[i] for v in row[1:]]
    cy = [row[0] for row in cores[i] for v in row[1:]]
    ax.scatter(cx, cy, s=60, c='#4d4d4d', alpha=.9, linewidths=0, zorder=2)
    ax.axhline(fdr_lines[i], color='k', lw=3, ls=(0, (5.25, 3.75)), zorder=3)
    for name, x, y in genes_up[i]:
        ax.text(x, y, name, color='#8b0000', fontsize=10.6, ha='center', va='center', zorder=4, clip_on=True)
    for name, x, y in genes_down[i]:
        ax.text(x, y, name, color='#00008b', fontsize=10.6, ha='center', va='center', zorder=4, clip_on=True)
    for s in ax.spines.values():
        s.set_linewidth(2.9)
    ax.set_xticks([-1, -.5, 0, .5, 1, 1.5])
    ax.set_xticklabels(['-1.0', '-0.5', '0.0', '0.5', '1.0', '1.5'], fontsize=14.5)
    ax.tick_params(axis='x', length=10, width=2.9, pad=9)
    nudge(ax.get_xticklabels(), -4, 0)
    if i == 0:
        ax.set_yticks(range(0, 15, 2))
        ax.tick_params(axis='y', length=10, width=2.9, pad=10, labelsize=15, labelrotation=90)
        for t in ax.get_yticklabels():
            t.set_va('center')
        nudge(ax.get_yticklabels(), 0, 3)
        px_text(70, 333, '-log10(p-value)', fontsize=22, rotation=90, ha='center', va='center')
    else:
        ax.set_yticks([])
    if i == 3:
        h = Line2D([0], [0], color='k', lw=2.9, ls=(0, (5.25, 4, .5, 10)))
        leg = ax.legend([h], ['FDR = 0.05'], loc='upper right', borderaxespad=0, fancybox=False, framealpha=1,
                        edgecolor='k', fontsize=14.3, handlelength=1.96, handletextpad=.8, borderpad=.7)
        leg.get_frame().set_linewidth(2.9)
    mid = (l + r)/2 - 4
    px_text(mid, 18, periods[i], fontsize=17.4, fontweight='bold', ha='center', va='center')
    px_text(mid, 707, 'log2 fold-change', fontsize=21.5, ha='center', va='center')

px_text(15, 28, 'A', fontsize=30, fontweight='bold', ha='center', va='center')
px_text(18, 783, 'B', fontsize=28, fontweight='bold', ha='center', va='center')
px_text(1114, 788, 'C', fontsize=28, fontweight='bold', ha='center', va='center')

#PLOT PANEL B
n = len(heat_genes)
ax_ann = px_ax(158.2, 534.8, 877.5, 1678.5)
ax_ann.set_facecolor('#999999')
ax_ann.set_xlim(0, 12)
ax_ann.set_ylim(n, 0)
for r, on in enumerate(gene_pathways):
    for c in range(12):
        colour = '#9400d3' if c in on else 'white'
        ax_ann.add_patch(Rectangle((c+.155, r+.075), .69, .85, fc=colour, ec='none'))
ax_ann.vlines(range(1, 12), 0, n, color='#d8d8d8', lw=.8)
ax_ann.set_xticks([])
ax_ann.set_yticks([])
for s in ax_ann.spines.values():
    s.set_visible(False)

heat_cmap = LinearSegmentedColormap.from_list('rb', ['#00008b', 'white', '#8b0000'])
ax_heat = px_ax(539, 793, 877.5, 1678.5)
ax_heat.pcolormesh(np.array(fold_changes), cmap=heat_cmap, vmin=-1.5, vmax=1.5, edgecolors='#999999', linewidth=3.2)
ax_heat.set_xlim(0, 4)
ax_heat.set_ylim(n, 0)
ax_heat.add_patch(Rectangle((1, heat_genes.index('OSM')-.2), 2, 1.1, fc='#8b0000', ec='none', zorder=3, clip_on=False))
ax_heat.set_xticks([])
ax_heat.set_yticks([])
for s in ax_heat.spines.values():
    s.set_edgecolor('#999999')
    s.set_linewidth(3)

for r, g in enumerate(heat_genes):
    px_text(796, 877.5 + (r+.5)*801/n, g, fontsize=18.4, ha='left', va='center')
for c, p in enumerate(pathways):
    px_text(166 + c*31.4, 1685, p, fontsize=18.8, fontweight='bold', rotation=-90, ha='center', va='top')
for c, p in enumerate(periods):
    px_text(563 + c*63.5, 1685, p, fontsize=18.5, rotation=-90, ha='center', va='top')

def draw_tree(node, ax):
    # returns the row position of a node and draws its bracket
    if not isinstance(node, tuple):
        return node + .5, 234
    h, a, b = node
    ya, xa = draw_tree(a, ax)
    yb, xb = draw_tree(b, ax)
    ax.plot([xa, h, h, xb], [ya, ya, yb, yb], color='k', lw=2.8, solid_joinstyle='miter', solid_capstyle='butt')
    return (ya + yb)/2, h

ax_den = px_ax(0, 158.2, 877.5, 1678.5)
ax_den.set_xlim(0, 234)
ax_den.set_ylim(n, 0)
draw_tree(tree, ax_den)
ax_den.axis('off')

ax_bar = px_ax(955, 984, 876, 1268)
grad = np.linspace(-1.5, 1.5, 256).reshape(-1, 1)
ax_bar.imshow(grad, cmap=heat_cmap, origin='lower', aspect='auto', extent=[.1, 1, -1.5, 1.46], vmin=-1.5, vmax=1.5)
ax_bar.set_xlim(0, 1)
ax_bar.set_ylim(-1.5, 1.5)
ax_bar.plot([0, .88], [1.49, 1.49], color='#8b0000', lw=2.2)
ax_bar.plot([0, .88], [-1.49, -1.49], color='#00008b', lw=2.2)
for s in ax_bar.spines.values():
    s.set_visible(False)
ax_bar.set_xticks([])
ax_bar.yaxis.tick_right()
ax_bar.set_yticks(bar_ticks)
ax_bar.set_yticklabels(bar_labels, fontsize=18)
ax_bar.tick_params(axis='y', length=0, pad=5)
nudge(ax_bar.get_yticklabels(), 0, 2)

#PLOT PANEL C
c_lefts = [(1197, 1528.5), (1621, 1953)]
c_rows = [(878.6, 1068), (1161.8, 1351.8), (1445.3, 1635), (1728, 1918.3)]
for i, (gene, traj, dots, base, yt, ytl, ylim, mean, band, ox, oy) in enumerate(c_panels):
    l, r = c_lefts[i % 2]
    t, b = c_rows[i//2]
    ax = px_ax(l, r, t, b)
    ax.set_xlim(16, 285)
    ax.set_ylim(*ylim)
    for row in traj:
        ax.plot(row[0::2], row[1::2], color='#a8a8a8', alpha=.5, lw=2.4, zorder=2)
    for row in traj:
        ax.scatter(row[0::2], row[1::2], s=36, c='#ffa500', alpha=.5, linewidths=0, zorder=3)
    ax.scatter(dots[0::2], dots[1::2], s=36, c='#ffa500', alpha=.5, linewidths=0, zorder=3)
    ax.scatter([275]*len(base), base, s=32, c='#1874cd', alpha=.5, linewidths=0, zorder=3)
    ax.axhline(mean, color='#1874cd', lw=2.9, zorder=4)
    dash_w = 3.0 if gene == 'IFNA6' else 2.3
    for v in band:
        ax.axhline(v, color='#1874cd', lw=dash_w, ls=(0, (14/dash_w/1.39, 9/dash_w/1.39)), zorder=4)
    ax.plot(ox, oy, color='#ffa500', lw=3, zorder=5)
    for s in ax.spines.values():
        s.set_linewidth(2.2)
    ax.set_xticks([50, 100, 150, 200, 250])
    ax.tick_params(axis='x', length=7, width=2.2, pad=6, labelsize=11.5)
    nudge(ax.get_xticklabels(), -4, 0)
    ax.set_yticks(yt)
    ax.set_yticklabels(ytl)
    ax.tick_params(axis='y', length=8, width=2.2, pad=8, labelsize=11.5, labelrotation=90)
    for tl in ax.get_yticklabels():
        tl.set_va('center')
    nudge(ax.get_yticklabels(), 0, 3)
    px_text(l - 70, (t + b)/2, gene, fontsize=15.5, rotation=90, ha='center', va='center')

px_text(1557, 1981, 'Days since onset of symptoms', fontsize=16.7, ha='center', va='center')

fig.savefig('out.png', dpi=100)
